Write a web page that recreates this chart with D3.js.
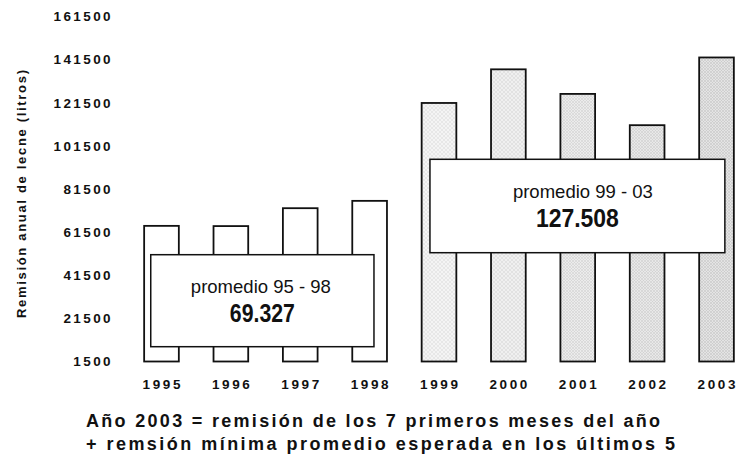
<!DOCTYPE html>
<html><head><meta charset="utf-8">
<script src="https://cdn.jsdelivr.net/npm/d3@7"></script>
<style>body{margin:0;background:#fff} svg{display:block}</style>
</head><body>
<svg id="c" width="746" height="463"></svg>
<script>
// ---- data ----
const years = ["1995","1996","1997","1998","1999","2000","2001","2002","2003"];
const remision = [64400, 64300, 72600, 76000, 121400, 137000, 125600, 111100, 142500];
const yTicks = [1500, 21500, 41500, 61500, 81500, 101500, 121500, 141500, 161500];
const promedioLabels = ["promedio 95 - 98", "promedio 99 - 03"];
const promedioValues = ["69.327", "127.508"];
const promedioFrom = ["1995", "1999"];
const promedioTo = ["1998", "2003"];
const yTitle = "Remisión anual de lecne (litros)";
const footnotes = ["Año 2003 = remisión de los 7 primeros meses del año",
                   "+ remsión mínima promedio esperada en los últimos 5"];

// ---- layout ----
const FONT = "'Liberation Sans', Arial, Helvetica, sans-serif";
const svg = d3.select("#c");
const x = d3.scaleBand().domain(years).range([126.8, 751.2]).paddingInner(0.5).paddingOuter(0.25);
const y = d3.scaleLinear().domain([1500, 161500]).range([361.5, 16.5]);

// patterns
const defs = svg.append("defs");
function hatch(id, base, line, size) {
  const p = defs.append("pattern").attr("id", id).attr("patternUnits", "userSpaceOnUse")
    .attr("width", size).attr("height", size);
  p.append("rect").attr("width", size).attr("height", size).attr("fill", base);
  p.append("path").attr("d", `M0,0L${size},${size}M${size},0L0,${size}`)
    .attr("stroke", line).attr("stroke-width", 0.6);
}
hatch("h1", "#f4f4f4", "#dedede", 4);
hatch("h2", "#f0f0f0", "#d9d9d9", 4);
hatch("h3", "#ececec", "#d2d2d2", 3);
hatch("h4", "#e8e8e8", "#cccccc", 3);
hatch("h5", "#e4e4e4", "#c6c6c6", 3);
const fill = d3.scaleOrdinal(years,
  ["#fff","#fff","#fff","#fff","url(#h1)","url(#h2)","url(#h3)","url(#h4)","url(#h5)"]);

// bars
svg.append("g").selectAll("rect").data(years).join("rect")
  .attr("x", d => x(d))
  .attr("y", (d, i) => y(remision[i]))
  .attr("width", x.bandwidth())
  .attr("height", (d, i) => y(1500) - y(remision[i]))
  .attr("fill", d => fill(d))
  .attr("stroke", "#111").attr("stroke-width", 1.8);

// y axis
const ya = svg.append("g").attr("transform", "translate(113,0)")
  .call(d3.axisLeft(y).tickValues(yTicks).tickSize(0).tickPadding(0).tickFormat(d3.format("d")));
ya.select(".domain").remove();
ya.selectAll("text").attr("font-family", FONT).attr("font-size", 13.5)
  .attr("font-weight", "bold").attr("letter-spacing", "2.4px").attr("fill", "#111");

// x axis
const xa = svg.append("g").attr("transform", "translate(1.3,379)")
  .call(d3.axisBottom(x).tickSize(0).tickPadding(0));
xa.select(".domain").remove();
xa.selectAll("text").attr("font-family", FONT).attr("font-size", 13.5)
  .attr("font-weight", "bold").attr("letter-spacing", "2.6px").attr("fill", "#111");

// y title
svg.append("text").attr("transform", "translate(25.5,194) rotate(-90)")
  .attr("text-anchor", "middle").attr("font-family", FONT).attr("font-size", 13)
  .attr("font-weight", "bold").attr("fill", "#111")
  .attr("textLength", 248).attr("lengthAdjust", "spacing").text(yTitle);

// average boxes
const boxLayout = [
  {x0: 6.6, x1: -13, top: 254.7, h: 92, tx: -1.5},
  {x0: 8.3, x1: -9, top: 159.3, h: 93.4, tx: 5.5}
];
promedioLabels.forEach((lab, i) => {
  const L = boxLayout[i];
  const bx0 = x(promedioFrom[i]) + L.x0;
  const bx1 = x(promedioTo[i]) + x.bandwidth() + L.x1;
  const g = svg.append("g");
  g.append("rect").attr("x", bx0).attr("y", L.top).attr("width", bx1 - bx0).attr("height", L.h)
    .attr("fill", "#fff").attr("stroke", "#111").attr("stroke-width", 1.5);
  const cx = (bx0 + bx1) / 2;
  g.append("text").attr("x", cx + L.tx).attr("y", L.top + 38.5).attr("text-anchor", "middle")
    .attr("font-family", FONT).attr("font-size", 18.5).attr("fill", "#111")
    .attr("textLength", 140).attr("lengthAdjust", "spacingAndGlyphs").text(lab);
  g.append("text").attr("x", cx).attr("y", L.top + 67.5).attr("text-anchor", "middle")
    .attr("font-family", FONT).attr("font-size", 26).attr("font-weight", "bold").attr("fill", "#111")
    .attr("textLength", i === 0 ? 65 : 83).attr("lengthAdjust", "spacingAndGlyphs")
    .text(promedioValues[i]);
});

// footnotes
const footLayout = [{x: 86, y: 427, w: 574}, {x: 86, y: 450, w: 589}];
footnotes.forEach((t, i) => {
  svg.append("text").attr("x", footLayout[i].x).attr("y", footLayout[i].y)
    .attr("font-family", FONT).attr("font-size", 18).attr("font-weight", "bold").attr("fill", "#111")
    .attr("textLength", footLayout[i].w).attr("lengthAdjust", "spacing").text(t);
});
</script>
</body></html>
